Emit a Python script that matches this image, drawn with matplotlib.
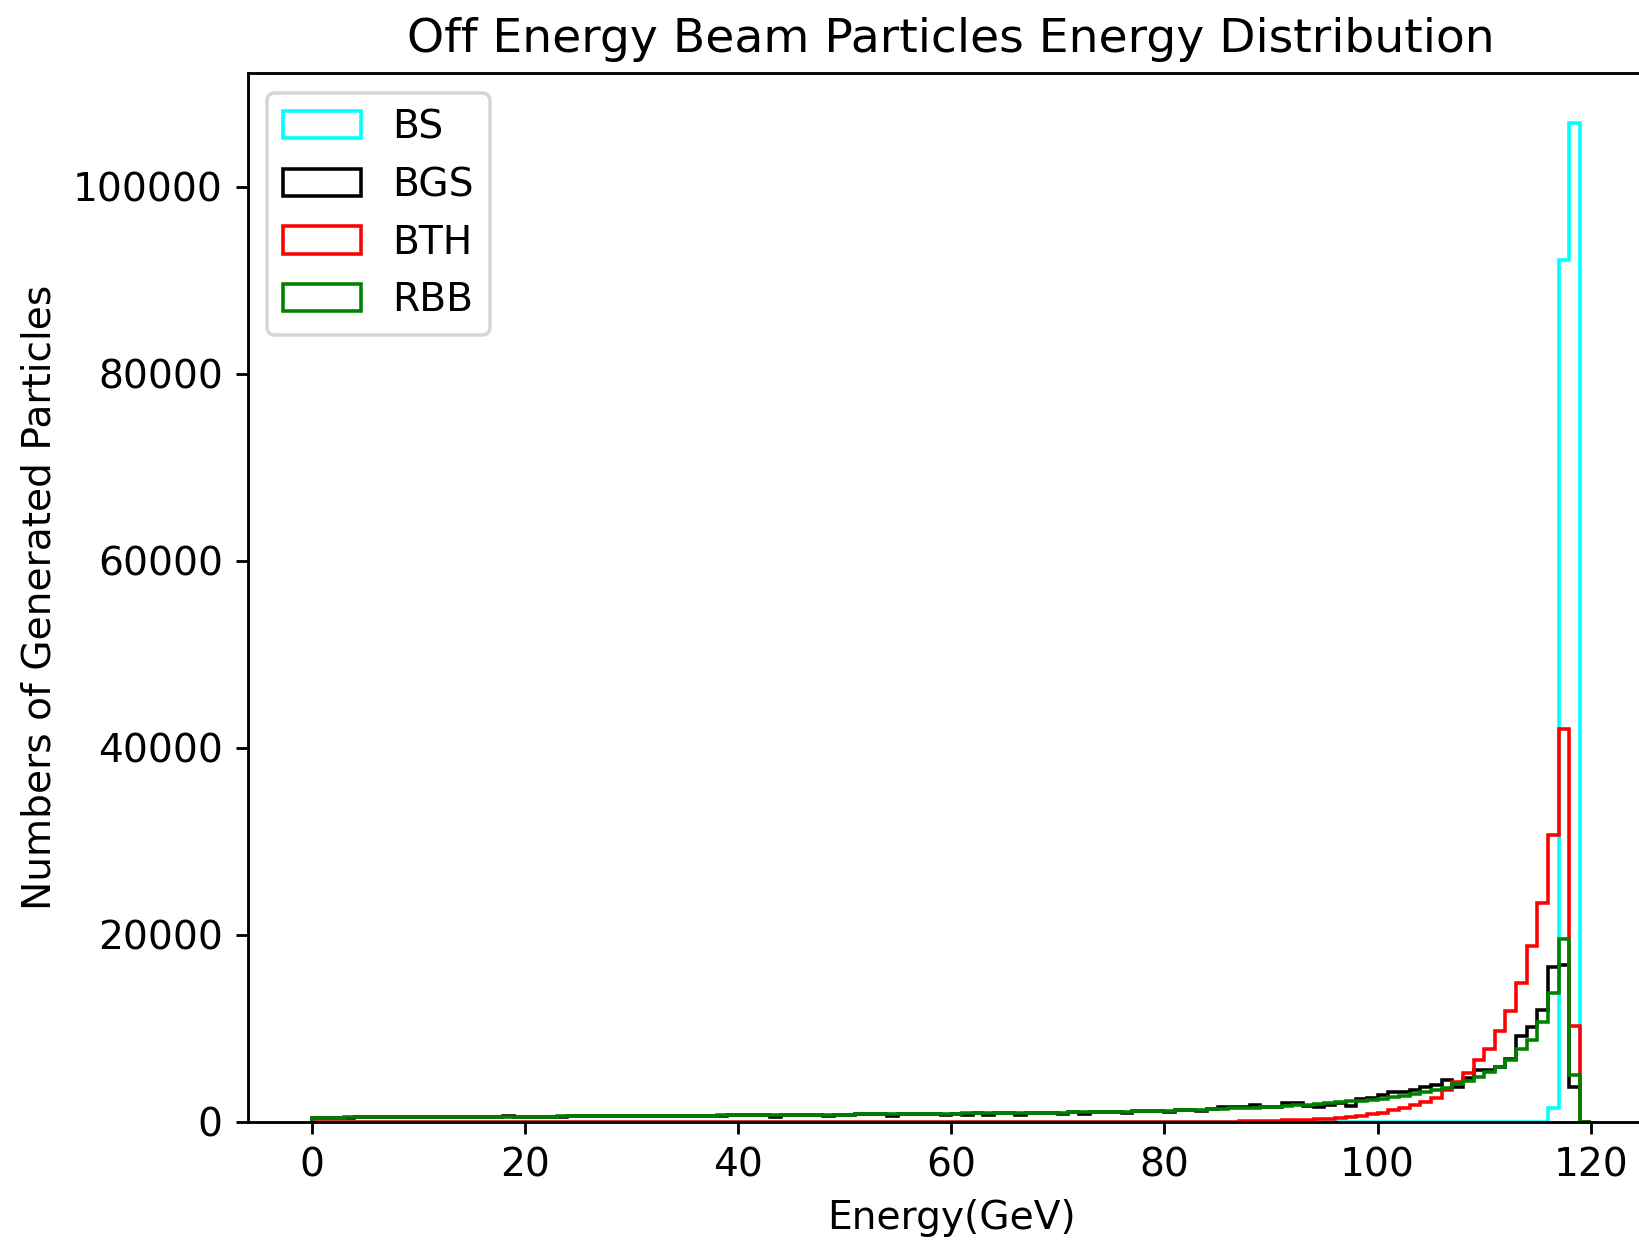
import numpy as np
import matplotlib
matplotlib.use("Agg")
import matplotlib.pyplot as plt

# energy bins, 1 GeV wide, 0..120 GeV
bin_edges = np.arange(0, 121, 1)
bin_centers = bin_edges[:-1] + 0.5

# counts per bin
bs_counts = [0] * 116 + [1430, 92200, 106800, 0]

rbb_counts = [
    440, 445, 450, 455, 460, 465, 470, 475, 480, 485,
    490, 495, 500, 505, 510, 515, 520, 525, 535, 540,
    545, 550, 555, 560, 570, 575, 580, 585, 595, 600,
    605, 615, 620, 625, 635, 640, 650, 655, 665, 670,
    680, 690, 695, 705, 715, 720, 730, 740, 750, 760,
    770, 780, 790, 800, 810, 820, 830, 845, 855, 865,
    875, 885, 895, 905, 915, 925, 935, 945, 955, 965,
    980, 995, 1010, 1030, 1050, 1070, 1090, 1110, 1135, 1160,
    1190, 1220, 1260, 1300, 1340, 1380, 1420, 1470, 1520, 1560,
    1600, 1680, 1760, 1830, 1910, 2000, 2080, 2170, 2260, 2350,
    2450, 2600, 2770, 2950, 3150, 3380, 3620, 4000, 4370, 4810,
    5350, 5800, 6630, 7800, 8730, 10690, 13730, 19500, 4990, 0,
]

bgs_counts = [
    430, 440, 445, 450, 455, 460, 465, 515, 475, 480,
    530, 535, 495, 545, 505, 510, 515, 520, 575, 535,
    540, 545, 550, 555, 565, 570, 575, 580, 590, 595,
    600, 610, 615, 620, 630, 635, 645, 650, 660, 665,
    675, 685, 690, 530, 710, 715, 725, 735, 570, 755,
    765, 775, 785, 795, 620, 815, 825, 840, 850, 690,
    870, 720, 890, 730, 910, 920, 760, 940, 950, 960,
    790, 990, 830, 1025, 1045, 1065, 920, 1105, 1130, 1155,
    1000, 1215, 1255, 1120, 1335, 1530, 1570, 1620, 1740, 1560,
    1550, 2030, 2030, 1700, 1600, 1830, 2050, 1650, 2450, 2520,
    2820, 3200, 3170, 3380, 3700, 3950, 4450, 3750, 4700, 5550,
    5550, 5880, 6670, 9160, 10160, 11940, 16570, 16750, 3740, 0,
]

bth_counts = [0] * 86 + [
    20, 35, 50, 70,
    100, 140, 180, 220, 270, 340, 420, 520, 650, 800,
    980, 1200, 1450, 1750, 2100, 2550, 3400, 4300, 5200, 6550,
    7740, 9730, 11800, 14800, 18800, 23400, 30700, 42000, 10200, 0,
]

series = [
    ("BS", bs_counts, "cyan"),
    ("BGS", bgs_counts, "black"),
    ("BTH", bth_counts, "red"),
    ("RBB", rbb_counts, "green"),
]

DPI = 256
fig = plt.figure(figsize=(1639 / DPI, 1244 / DPI), dpi=DPI)
ax = fig.add_axes([0.1511, 0.0983, 0.8585, 0.8428])

for name, counts, color in series:
    ax.hist(bin_centers, bins=bin_edges, weights=counts, histtype="step",
            color=color, linewidth=1.0, label=name)

ax.set_title("Off Energy Beam Particles Energy Distribution", fontsize=13.3)
ax.set_xlabel("Energy(GeV)", fontsize=11)
ax.set_ylabel("Numbers of Generated Particles", fontsize=11)
ax.tick_params(labelsize=11)
ax.legend(loc="upper left", fontsize=11)

fig.savefig("out.png", dpi=DPI)
